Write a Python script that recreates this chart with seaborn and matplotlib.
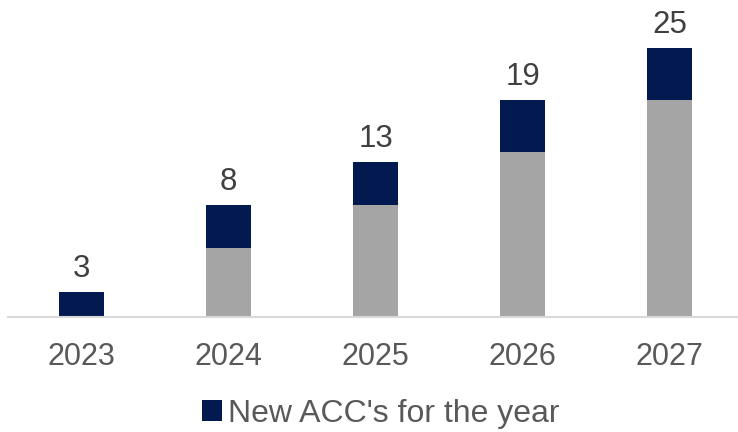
import matplotlib
matplotlib.use("Agg")
import matplotlib.pyplot as plt
import seaborn as sns
import pandas as pd
from matplotlib.patches import Patch

years = ["2023", "2024", "2025", "2026", "2027"]
existing = [0.0, 6.4, 10.4, 15.3, 20.2]
new_for_year = [2.35, 4.0, 4.0, 4.9, 4.8]
labels = ["3", "8", "13", "19", "25"]

navy = "#021a4f"
grey = "#a5a5a5"
text_col = "#595959"

sns.set_theme(style="white")
plt.rcParams["font.family"] = ["Liberation Sans", "DejaVu Sans"]

totals = [e + n for e, n in zip(existing, new_for_year)]
df = pd.DataFrame({"year": years, "existing": existing, "total": totals})

fig = plt.figure(figsize=(7.38, 4.32), dpi=100)
ax = fig.add_axes([8 / 738, 115 / 432, 730 / 738, 317 / 432])

sns.barplot(data=df, x="year", y="total", color=navy, width=0.31, ax=ax,
            saturation=1, linewidth=0)
sns.barplot(data=df, x="year", y="existing", color=grey, width=0.31, ax=ax,
            saturation=1, linewidth=0)

for i, (t, lab) in enumerate(zip(totals, labels)):
    ax.annotate(lab, (i, t), xytext=(0, 5.5), textcoords="offset points",
                ha="center", va="bottom", fontsize=22.5, color="#404040")

ax.set_xlim(-0.5, 4.465)
ax.set_ylim(0, 29.46)
ax.set_xlabel("")
ax.set_ylabel("")
ax.set_yticks([])
for s in ["top", "right", "left"]:
    ax.spines[s].set_visible(False)
ax.spines["bottom"].set_color("#d9d9d9")
ax.spines["bottom"].set_linewidth(1.5)
ax.tick_params(axis="x", length=0, pad=18, labelsize=22, labelcolor=text_col)

handle = Patch(facecolor=navy, edgecolor="none")
fig.legend([handle], ["New ACC's for the year"], loc="center",
           bbox_to_anchor=(381 / 738, 1 - 414 / 432), frameon=False,
           fontsize=23, labelcolor=text_col, handlelength=0.62, handleheight=0.62,
           handletextpad=0.18, borderpad=0)

fig.savefig("out.png", dpi=100)
